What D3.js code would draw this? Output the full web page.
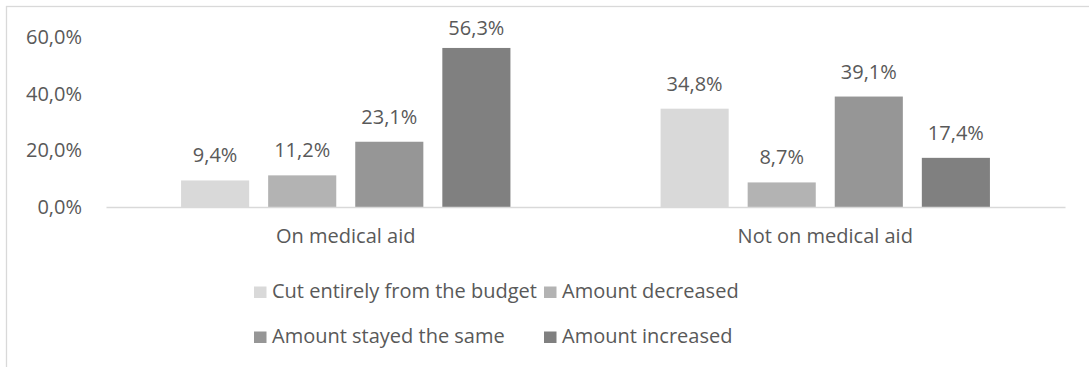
<!DOCTYPE html>
<html>
<head>
<meta charset="utf-8">
<script src="https://cdn.jsdelivr.net/npm/d3@7"></script>
<style>
  html, body { margin: 0; padding: 0; background: #fff; }
  svg text { font-family: "Open Sans", "Noto Sans", sans-serif; fill: #595959; }
</style>
</head>
<body>
<svg id="chart" width="1089" height="367"></svg>
<script>
// Budget change by medical-aid status
const categories = ["On medical aid", "Not on medical aid"];
const seriesNames = ["Cut entirely from the budget", "Amount decreased", "Amount stayed the same", "Amount increased"];
const cutEntirely = [9.4, 34.8];
const decreased = [11.2, 8.7];
const stayedSame = [23.1, 39.1];
const increased = [56.3, 17.4];
const yTicks = [0, 20, 40, 60];
const seriesColors = ["#d9d9d9", "#b3b3b3", "#969696", "#808080"];

const seriesValues = [cutEntirely, decreased, stayedSame, increased];

const svg = d3.select("#chart");
const fontSize = 20;

// outer frame (continues past the right and bottom edges)
svg.append("rect")
  .attr("x", 6.5).attr("y", 6.5)
  .attr("width", 1200).attr("height", 500)
  .attr("fill", "none").attr("stroke", "#d9d9d9").attr("stroke-width", 1.3);

const plot = { left: 106, right: 1065, top: 37.5, bottom: 207 };

const x0 = d3.scaleBand().domain(categories).range([plot.left, plot.right]).paddingInner(0).paddingOuter(0);
const x1 = d3.scaleBand().domain(seriesNames).range([0, x0.bandwidth()]).paddingInner(0.218).paddingOuter(0.862);
const y = d3.scaleLinear().domain([0, 60]).range([plot.bottom, plot.top]);

const fmt = v => d3.format(".1f")(v).replace(".", ",") + "%";

// y axis labels (no axis line, no ticks)
const yAxis = d3.axisLeft(y).tickValues(yTicks).tickSize(0).tickPadding(0).tickFormat(fmt);
const yg = svg.append("g").attr("transform", `translate(82,0)`).call(yAxis);
yg.select(".domain").remove();
yg.selectAll("text").style("font-size", fontSize + "px").attr("font-family", null).attr("fill", "#595959");

// bars
const groups = svg.append("g").selectAll("g")
  .data(categories)
  .join("g")
  .attr("transform", d => `translate(${x0(d)},0)`);

groups.selectAll("rect")
  .data((c, ci) => seriesNames.map((s, si) => ({ s, si, v: seriesValues[si][ci] })))
  .join("rect")
  .attr("x", d => x1(d.s))
  .attr("width", x1.bandwidth())
  .attr("y", d => y(d.v))
  .attr("height", d => plot.bottom - y(d.v))
  .attr("fill", d => seriesColors[d.si]);

// value labels above the bars, kept inside the chart area
groups.selectAll("text.val")
  .data((c, ci) => seriesNames.map((s, si) => ({ s, si, v: seriesValues[si][ci] })))
  .join("text")
  .attr("class", "val")
  .attr("x", d => x1(d.s) + x1.bandwidth() / 2)
  .attr("y", d => Math.max(y(d.v) - 18, 35))
  .attr("text-anchor", "middle")
  .style("font-size", fontSize + "px")
  .text(d => fmt(d.v));

// category axis line
const xAxis = d3.axisBottom(x0).tickSize(0).tickPadding(0);
const xg = svg.append("g").attr("transform", `translate(0,${plot.bottom})`).call(xAxis);
xg.select(".domain").attr("stroke", "#d9d9d9").attr("stroke-width", 1.5);
xg.selectAll("text")
  .attr("dy", null).attr("y", 36)
  .attr("font-family", null).attr("fill", "#595959")
  .style("font-size", fontSize + "px");

// legend in two rows
const legendPos = [[254, 298], [544, 298], [254, 343], [544, 343]];
const legend = svg.append("g").selectAll("g")
  .data(seriesNames)
  .join("g")
  .attr("transform", (d, i) => `translate(${legendPos[i][0]},${legendPos[i][1]})`);
legend.append("rect")
  .attr("x", 0).attr("y", -11.5).attr("width", 12.5).attr("height", 11.5)
  .attr("fill", (d, i) => seriesColors[i]);
legend.append("text")
  .attr("x", 18).attr("y", 0)
  .style("font-size", fontSize + "px")
  .text(d => d);
</script>
</body>
</html>
